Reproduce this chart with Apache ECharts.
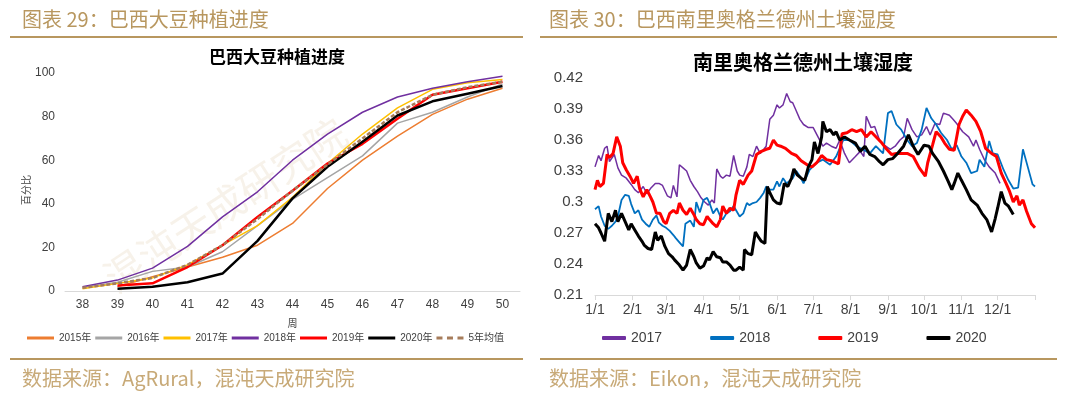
<!DOCTYPE html>
<html><head><meta charset="utf-8">
<script src="https://cdn.jsdelivr.net/npm/echarts@6/dist/echarts.min.js"></script>
<style>html,body{margin:0;padding:0;background:#fff}#c{width:1080px;height:395px}</style>
</head><body><div id="c"></div><script>
// ---------- Left chart: 巴西大豆种植进度 ----------
const weeks = ['38','39','40','41','42','43','44','45','46','47','48','49','50'];
const leftNames = ['2015年','2016年','2017年','2018年','2019年','2020年','5年均值'];
const d2015 = [null, 2, 6.5, 11, 15.5, 21, 31, 47, 60, 71, 81, 88, 93];
const d2016 = [1.5, 4, 9, 11, 18, 30, 42, 52, 62, 77, 82, 89, 95];
const d2017 = [1, 3.5, 6, 12, 21, 30, 43, 58.5, 72, 84, 92.5, 95.5, 97];
const d2018 = [2, 5, 10.5, 20.5, 34, 45.5, 60, 72, 82, 89, 93, 96, 98.5];
const d2019 = [null, 2.5, 3.5, 11, 21, 34, 46, 58.5, 67.5, 79, 90, 93, 96];
const d2020 = [null, 1, 2, 4, 8, 23, 42.5, 57, 68.5, 80.5, 87, 90.5, 94];
const avg5  = [1.5, 3.5, 6, 12, 21, 33, 46, 58, 70, 82, 90, 93.5, 96];

// ---------- Right chart: 南里奥格兰德州土壤湿度 ([day of year, value]) ----------
const monthStarts = [0,31,59,90,120,151,181,212,243,273,304,334];
const monthLabels = ['1/1','2/1','3/1','4/1','5/1','6/1','7/1','8/1','9/1','10/1','11/1','12/1'];
const monthTicks = [0,31,59,90,120,151,181,212,243,273,304,334,365];
const rightNames = ['2017','2018','2019','2020'];

const s2017 = [[0,0.334],[3,0.345],[5,0.34],[8,0.352],[10,0.354],[12,0.339],[16,0.346],[19,0.333],[22,0.326],[26,0.323],[30,0.317],[33,0.312],[36,0.309],[40,0.315],[43,0.308],[46,0.313],[50,0.318],[53,0.318],[56,0.316],[60,0.306],[63,0.304],[65,0.316],[68,0.305],[70,0.336],[73,0.333],[76,0.33],[79,0.321],[82,0.315],[85,0.31],[88,0.304],[91,0.3],[94,0.297],[97,0.302],[99,0.299],[101,0.332],[104,0.325],[106,0.323],[109,0.326],[112,0.325],[115,0.345],[118,0.33],[120,0.326],[123,0.325],[126,0.334],[128,0.346],[131,0.344],[134,0.354],[137,0.347],[140,0.351],[142,0.354],[145,0.38],[148,0.384],[151,0.394],[153,0.391],[156,0.394],[159,0.405],[162,0.397],[164,0.396],[167,0.388],[170,0.38],[173,0.375],[177,0.372],[181,0.372],[185,0.363],[189,0.354],[192,0.357],[196,0.354],[200,0.352],[203,0.36],[207,0.347],[211,0.338],[216,0.344],[220,0.349],[223,0.344],[225,0.383],[229,0.372],[232,0.373],[236,0.36],[240,0.355],[245,0.351],[249,0.354],[253,0.36],[256,0.363],[259,0.381],[263,0.37],[267,0.363],[271,0.365],[275,0.373],[278,0.365],[282,0.376],[286,0.375],[289,0.386],[294,0.384],[297,0.38],[300,0.376],[305,0.368],[310,0.363],[314,0.354],[316,0.36],[319,0.351],[323,0.341],[327,0.334],[332,0.328],[336,0.318]];

const s2018 = [[0,0.293],[3,0.296],[5,0.286],[8,0.277],[11,0.274],[14,0.277],[17,0.281],[19,0.286],[22,0.302],[25,0.307],[28,0.306],[30,0.298],[33,0.289],[36,0.292],[39,0.283],[42,0.279],[45,0.276],[48,0.283],[51,0.287],[53,0.28],[56,0.277],[59,0.275],[62,0.272],[65,0.268],[67,0.265],[70,0.261],[73,0.257],[74,0.256],[75,0.279],[79,0.282],[82,0.276],[84,0.3],[87,0.29],[90,0.302],[93,0.304],[95,0.299],[98,0.289],[101,0.294],[104,0.286],[106,0.283],[109,0.289],[112,0.291],[115,0.296],[117,0.292],[120,0.286],[123,0.289],[126,0.299],[128,0.297],[131,0.299],[134,0.3],[137,0.304],[140,0.309],[142,0.315],[145,0.312],[148,0.312],[151,0.32],[153,0.315],[156,0.323],[159,0.318],[162,0.321],[164,0.323],[167,0.33],[170,0.325],[173,0.318],[178,0.331],[184,0.338],[189,0.341],[195,0.336],[200,0.344],[206,0.36],[211,0.36],[217,0.354],[222,0.351],[228,0.347],[233,0.354],[239,0.347],[243,0.386],[246,0.388],[250,0.375],[254,0.37],[259,0.36],[263,0.354],[267,0.357],[271,0.37],[275,0.391],[279,0.381],[283,0.375],[287,0.367],[292,0.36],[296,0.351],[300,0.355],[304,0.344],[308,0.338],[312,0.328],[317,0.33],[319,0.341],[323,0.334],[327,0.359],[330,0.347],[334,0.346],[339,0.331],[343,0.321],[347,0.313],[351,0.314],[355,0.351],[359,0.334],[363,0.317],[365,0.315]];

const s2019 = [[0,0.312],[2,0.321],[4,0.315],[7,0.318],[10,0.346],[12,0.343],[15,0.347],[18,0.363],[21,0.354],[23,0.338],[26,0.331],[29,0.325],[32,0.318],[35,0.325],[37,0.313],[40,0.305],[43,0.312],[46,0.305],[48,0.3],[51,0.289],[54,0.289],[57,0.281],[59,0.279],[62,0.289],[65,0.292],[68,0.289],[70,0.299],[73,0.292],[76,0.288],[79,0.294],[82,0.288],[84,0.283],[87,0.279],[90,0.278],[93,0.286],[95,0.283],[98,0.279],[101,0.276],[104,0.283],[106,0.296],[109,0.289],[112,0.294],[115,0.292],[117,0.307],[120,0.321],[123,0.317],[127,0.326],[130,0.33],[134,0.346],[138,0.349],[142,0.351],[145,0.352],[148,0.36],[151,0.355],[154,0.354],[158,0.352],[163,0.347],[167,0.345],[171,0.34],[176,0.336],[180,0.334],[184,0.338],[188,0.345],[192,0.341],[196,0.34],[202,0.337],[205,0.366],[209,0.367],[213,0.37],[217,0.368],[221,0.37],[225,0.363],[229,0.368],[234,0.362],[238,0.357],[242,0.351],[246,0.346],[250,0.347],[254,0.347],[259,0.347],[264,0.344],[269,0.333],[274,0.325],[276,0.338],[280,0.355],[283,0.368],[287,0.363],[290,0.357],[294,0.351],[298,0.35],[302,0.375],[305,0.383],[308,0.389],[312,0.384],[316,0.378],[320,0.368],[324,0.352],[329,0.347],[333,0.344],[337,0.328],[341,0.318],[344,0.31],[347,0.3],[350,0.306],[352,0.297],[355,0.302],[358,0.291],[362,0.279],[365,0.275]];

const s2020 = [[0,0.279],[3,0.275],[5,0.27],[8,0.262],[11,0.289],[14,0.281],[17,0.292],[19,0.281],[22,0.289],[25,0.281],[28,0.273],[30,0.279],[33,0.273],[36,0.267],[39,0.262],[41,0.258],[44,0.255],[47,0.254],[50,0.271],[52,0.263],[55,0.267],[58,0.257],[61,0.25],[64,0.247],[66,0.244],[70,0.239],[73,0.234],[76,0.239],[79,0.254],[82,0.247],[84,0.241],[87,0.236],[90,0.238],[93,0.246],[95,0.244],[98,0.252],[101,0.247],[104,0.246],[106,0.242],[109,0.242],[112,0.239],[115,0.234],[117,0.234],[120,0.237],[123,0.234],[124,0.254],[127,0.25],[130,0.249],[133,0.271],[135,0.267],[138,0.262],[141,0.26],[143,0.315],[145,0.309],[148,0.302],[151,0.299],[154,0.298],[157,0.318],[160,0.315],[163,0.323],[165,0.332],[168,0.326],[171,0.323],[174,0.321],[177,0.334],[180,0.341],[182,0.358],[185,0.347],[188,0.363],[189,0.378],[192,0.368],[195,0.37],[198,0.365],[200,0.368],[203,0.36],[207,0.363],[211,0.36],[216,0.357],[220,0.349],[224,0.354],[228,0.346],[232,0.344],[236,0.339],[239,0.336],[243,0.341],[247,0.342],[251,0.347],[256,0.354],[260,0.365],[264,0.354],[268,0.346],[273,0.355],[277,0.354],[280,0.347],[285,0.339],[289,0.33],[293,0.32],[296,0.312],[298,0.318],[301,0.328],[304,0.321],[308,0.312],[312,0.302],[317,0.297],[321,0.289],[325,0.283],[329,0.271],[332,0.284],[334,0.294],[337,0.31],[340,0.299],[343,0.296],[347,0.288]];

const gold = '#b8975f';
const goldLight = '#c8aa78';
const txt = '#404040';
const lat = 'Liberation Sans, Arial, Noto Sans CJK SC, sans-serif';
const cjk = 'Noto Sans CJK SC, sans-serif';
const dashIcon = 'path://M0,0H6V2H0ZM10.5,0H16.5V2H10.5ZM21,0H27V2H21Z';

function lineSeries(name, data, color, width, x, y, type) {
  return {
    name, type: 'line', data, xAxisIndex: x, yAxisIndex: y,
    symbol: 'none', showSymbol: false, connectNulls: false, smooth: false,
    lineStyle: { color, width, type: type || 'solid' },
    itemStyle: { color },
    emphasis: { disabled: true }, z: 3
  };
}

const chart = echarts.init(document.getElementById('c'), null, { renderer: 'canvas' });
chart.setOption({
  animation: false,
  backgroundColor: '#fff',
  grid: [
    { left: 65, right: 560, top: 73, bottom: 104, containLabel: false, outerBoundsMode: 'none' },
    { left: 595, right: 45, top: 78, bottom: 100, containLabel: false, outerBoundsMode: 'none' }
  ],
  xAxis: [
    {
      gridIndex: 0, type: 'category', data: weeks, boundaryGap: true,
      name: '周', nameLocation: 'middle', nameGap: 27,
      nameTextStyle: { fontSize: 10, color: txt, fontFamily: cjk },
      axisLine: { show: true, lineStyle: { color: '#d9d9d9', width: 1 } },
      axisTick: { show: false },
      axisLabel: { color: txt, fontSize: 12, margin: 8, fontFamily: lat },
      splitLine: { show: false }
    },
    {
      gridIndex: 1, type: 'value', min: 0, max: 365,
      axisLine: { show: true, lineStyle: { color: '#d9d9d9', width: 1 } },
      axisTick: { show: true, customValues: monthTicks, length: 5, lineStyle: { color: '#d9d9d9' } },
      axisLabel: {
        customValues: monthStarts, color: txt, fontSize: 14, margin: 8, fontFamily: lat,
        formatter: function (v) { const i = monthStarts.indexOf(v); return i >= 0 ? monthLabels[i] : ''; }
      },
      splitLine: { show: false }
    }
  ],
  yAxis: [
    {
      gridIndex: 0, type: 'value', min: 0, max: 100, interval: 20,
      name: '百分比', nameLocation: 'middle', nameGap: 20, nameRotate: 90,
      nameTextStyle: { fontSize: 10, color: txt, fontFamily: cjk, padding: [0, 0, 0, -16] },
      axisLine: { show: false }, axisTick: { show: false },
      axisLabel: { color: txt, fontSize: 12, margin: 10, fontFamily: lat },
      splitLine: { show: false }
    },
    {
      gridIndex: 1, type: 'value', min: 0.21, max: 0.42, interval: 0.03,
      axisLine: { show: false }, axisTick: { show: false },
      axisLabel: {
        color: txt, fontSize: 15, margin: 12, fontFamily: lat,
        formatter: function (v) { return String(Math.round(v * 100) / 100); }
      },
      splitLine: { show: false }
    }
  ],
  legend: [
    {
      data: [
        { name: '2015年', icon: 'rect' }, { name: '2016年', icon: 'rect' },
        { name: '2017年', icon: 'rect' }, { name: '2018年', icon: 'rect' },
        { name: '2019年', icon: 'rect' }, { name: '2020年', icon: 'rect' },
        { name: '5年均值', icon: dashIcon }
      ],
      left: 22, top: 328, itemWidth: 27, itemHeight: 3, itemGap: 4, symbolKeepAspect: false,
      textStyle: { fontSize: 10, color: txt, fontFamily: lat }, selectedMode: false
    },
    {
      data: rightNames.map(n => ({ name: n, icon: 'roundRect' })),
      left: 597, top: 326, itemWidth: 24, itemHeight: 4, itemGap: 48, symbolKeepAspect: false,
      textStyle: { fontSize: 14, color: txt, fontFamily: lat }, selectedMode: false
    }
  ],
  graphic: [
    { type: 'text', x: 225, y: 205, rotation: 0.58, z: 0, silent: true,
      style: { text: '混沌天成研究院', fill: 'rgba(214,190,150,0.2)', font: '400 40px ' + cjk,
               align: 'center', verticalAlign: 'middle', textAlign: 'center', textVerticalAlign: 'middle' } },
    { type: 'text', x: 22, y: 19, style: { text: '图表 29：巴西大豆种植进度', fill: gold, font: '20px ' + cjk, verticalAlign: 'middle', textVerticalAlign: 'middle' } },
    { type: 'text', x: 549, y: 19, style: { text: '图表 30：巴西南里奥格兰德州土壤湿度', fill: gold, font: '20px ' + cjk, verticalAlign: 'middle', textVerticalAlign: 'middle' } },
    { type: 'line', shape: { x1: 10, y1: 37, x2: 523, y2: 37 }, style: { stroke: gold, lineWidth: 2 } },
    { type: 'line', shape: { x1: 540, y1: 37, x2: 1057, y2: 37 }, style: { stroke: gold, lineWidth: 2 } },
    { type: 'line', shape: { x1: 10, y1: 359, x2: 523, y2: 359 }, style: { stroke: gold, lineWidth: 2 } },
    { type: 'line', shape: { x1: 540, y1: 359, x2: 1057, y2: 359 }, style: { stroke: gold, lineWidth: 2 } },
    { type: 'text', x: 22, y: 378, style: { text: '数据来源：AgRural，混沌天成研究院', fill: goldLight, font: '20px ' + cjk, verticalAlign: 'middle', textVerticalAlign: 'middle' } },
    { type: 'text', x: 549, y: 378, style: { text: '数据来源：Eikon，混沌天成研究院', fill: goldLight, font: '20px ' + cjk, verticalAlign: 'middle', textVerticalAlign: 'middle' } },
    { type: 'text', x: 277, y: 57, style: { text: '巴西大豆种植进度', fill: '#000', font: 'bold 17px ' + cjk, align: 'center', verticalAlign: 'middle', textAlign: 'center', textVerticalAlign: 'middle' } },
    { type: 'text', x: 803, y: 62, style: { text: '南里奥格兰德州土壤湿度', fill: '#000', font: 'bold 20px ' + cjk, align: 'center', verticalAlign: 'middle', textAlign: 'center', textVerticalAlign: 'middle' } }
  ],
  series: [
    lineSeries('2015年', d2015, '#ed7d31', 1.5, 0, 0),
    lineSeries('2016年', d2016, '#a5a5a5', 1.5, 0, 0),
    lineSeries('2017年', d2017, '#ffc000', 1.5, 0, 0),
    lineSeries('2018年', d2018, '#7030a0', 1.5, 0, 0),
    lineSeries('2019年', d2019, '#ff0000', 2.5, 0, 0),
    lineSeries('2020年', d2020, '#000000', 2.5, 0, 0),
    lineSeries('5年均值', avg5, '#a67c5b', 2.5, 0, 0, [4, 2]),
    lineSeries('2017', s2017, '#7030a0', 1.5, 1, 1),
    lineSeries('2018', s2018, '#0070c0', 1.8, 1, 1),
    lineSeries('2019', s2019, '#ff0000', 3, 1, 1),
    lineSeries('2020', s2020, '#000000', 3, 1, 1)
  ]
});
</script></body></html>
